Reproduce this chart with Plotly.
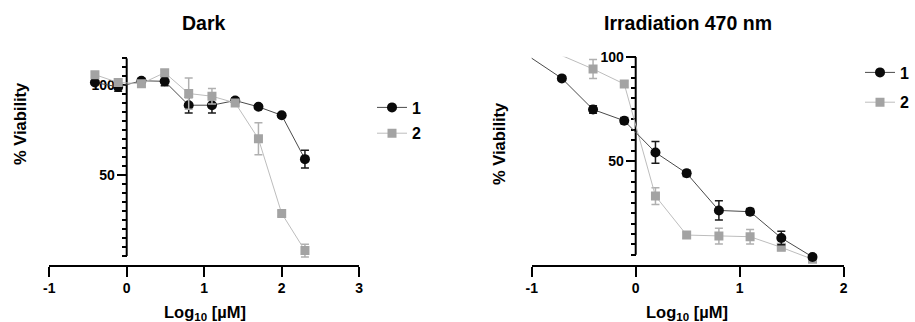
import plotly.graph_objects as go

W, H = 915, 322
FONT = "Arial, Liberation Sans, sans-serif"

# ---- data: log10 concentration (µM) vs % viability, mean ± SD ----
dark_x = [-0.41, -0.11, 0.19, 0.49, 0.80, 1.10, 1.40, 1.70, 2.00, 2.30]
dark_1 = [101.5, 99.1, 102.5, 102.2, 88.9, 88.9, 91.5, 88.0, 83.3, 58.9]
dark_1_sd = [1.0, 2.5, 1.0, 2.5, 4.3, 4.3, 1.5, 1.0, 1.0, 4.9]
dark_2 = [105.9, 101.5, 100.9, 107.0, 95.4, 93.9, 90.2, 70.2, 28.7, 8.0]
dark_2_sd = [1.5, 1.5, 1.5, 1.5, 8.7, 4.3, 1.5, 8.9, 1.5, 3.5]

# lowest concentrations fall outside the plotted axis range
light_1_x = [-1.31, -0.71, -0.41, -0.11, 0.19, 0.49, 0.80, 1.10, 1.40, 1.70]
light_1 = [109.6, 89.6, 74.7, 69.3, 54.1, 44.1, 26.3, 25.7, 13.1, 4.0]
light_1_sd = [0.0, 1.0, 1.8, 1.5, 5.2, 1.5, 4.6, 1.5, 3.2, 1.0]
light_2_x = [-1.01, -0.41, -0.11, 0.19, 0.49, 0.80, 1.10, 1.40, 1.70]
light_2 = [107.0, 94.1, 86.9, 33.2, 14.5, 14.0, 13.7, 8.6, 2.9]
light_2_sd = [0.0, 4.5, 1.5, 4.0, 1.5, 3.8, 3.5, 1.5, 1.0]

x_ticks_dark = [-1, 0, 1, 2, 3]
x_ticks_light = [-1, 0, 1, 2]
y_ticks = [50, 100]
panel_titles = ["Dark", "Irradiation 470 nm"]
series_names = ["1", "2"]

# ---- layout geometry (pixels) ----
def px_x(p):
    return p / W

def px_y(p):
    return 1 - p / H

dark_xdom = [px_x(49.2), px_x(359.2)]
dark_ydom = [px_y(265.0), px_y(58.3)]
light_xdom = [px_x(531.7), px_x(843.7)]
light_ydom = [px_y(265.3), px_y(56.7)]
dark_xr, dark_yr = [-1, 3], [0, 115]
light_xr, light_yr = [-1, 2], [0, 100]


def x_to_paper(v, dom, rng):
    return dom[0] + (v - rng[0]) / (rng[1] - rng[0]) * (dom[1] - dom[0])


BLACK_MK, BLACK_LN, BLACK_ERR = "#0a0a0a", "#4a4a4a", "#1a1a1a"
GRAY_MK, GRAY_LN, GRAY_ERR = "#a3a3a3", "#bdbdbd", "#b0b0b0"


def series(x, y, sd, name, symbol, mk, ln, err, xa, ya, legend, rank):
    return go.Scatter(
        x=x, y=y, name=name, mode="lines+markers",
        xaxis=xa, yaxis=ya, legend=legend, legendrank=rank,
        legendgroup=f"{legend}-{name}",
        line=dict(color=ln, width=1),
        marker=dict(symbol=symbol, size=10 if symbol == "circle" else 9, color=mk),
        error_y=dict(type="data", array=sd, color=err, thickness=1.5, width=4),
    )


fig = go.Figure()
# dark panel: series 2 drawn over series 1
fig.add_trace(series(dark_x, dark_1, dark_1_sd, series_names[0], "circle",
                     BLACK_MK, BLACK_LN, BLACK_ERR, "x", "y", "legend", 1))
fig.add_trace(series(dark_x, dark_2, dark_2_sd, series_names[1], "square",
                     GRAY_MK, GRAY_LN, GRAY_ERR, "x", "y", "legend", 2))
# irradiated panel: series 1 drawn over series 2
fig.add_trace(series(light_2_x, light_2, light_2_sd, series_names[1], "square",
                     GRAY_MK, GRAY_LN, GRAY_ERR, "x2", "y2", "legend2", 2))
fig.add_trace(series(light_1_x, light_1, light_1_sd, series_names[0], "circle",
                     BLACK_MK, BLACK_LN, BLACK_ERR, "x2", "y2", "legend2", 1))

tickfont = dict(family=FONT, size=14, color="black", weight="bold")


def xaxis(dom, rng, ticks, anchor):
    return dict(domain=dom, range=rng, anchor=anchor, automargin=False,
                tickmode="array", tickvals=ticks, ticktext=[str(t) for t in ticks],
                showline=True, linewidth=2, linecolor="black",
                ticks="outside", ticklen=10, tickwidth=2, tickcolor="black",
                ticklabelstandoff=-1,
                showgrid=False, zeroline=False, tickfont=tickfont)


def yaxis(dom, rng, xdom, xrng):
    return dict(domain=dom, range=rng, anchor="free", automargin=False,
                position=x_to_paper(0, xdom, xrng), side="left",
                tickmode="array", tickvals=y_ticks, ticktext=[str(t) for t in y_ticks],
                ticks="outside", ticklen=10, tickwidth=2,
                tickcolor="black", showline=False, showgrid=False, zeroline=False,
                tickfont=tickfont, layer="below traces", ticklabelstandoff=-1,
                minor=dict(tickmode="array", tickvals=list(range(5, rng[1] + 1, 5)),
                           ticks="outside", ticklen=4.5, tickwidth=2, tickcolor="black"))


shapes = [
    dict(type="line", xref="x", yref="y", x0=0, x1=0, y0=5, y1=dark_yr[1],
         line=dict(color="black", width=2), layer="below"),
    dict(type="line", xref="x2", yref="y2", x0=0, x1=0, y0=5, y1=light_yr[1],
         line=dict(color="black", width=2), layer="below"),
]

title_font = dict(family=FONT, size=19.5, color="black", weight="bold")
label_font = dict(family=FONT, size=16.5, color="black", weight="bold")
xlabel = "Log<sub>10</sub> [µM]"
annotations = [
    dict(text=panel_titles[0], x=px_x(204.2), y=px_y(23), font=title_font),
    dict(text=panel_titles[1], x=px_x(687.7), y=px_y(23), font=title_font),
    dict(text=xlabel, x=px_x(204.7), y=px_y(313), font=label_font),
    dict(text=xlabel, x=px_x(687.0), y=px_y(313), font=label_font),
    dict(text="% Viability", x=px_x(20), y=px_y(124), font=label_font, textangle=-90),
    dict(text="% Viability", x=px_x(499), y=px_y(144), font=label_font, textangle=-90),
]
for a in annotations:
    a.update(xref="paper", yref="paper", showarrow=False,
             xanchor="center", yanchor="middle")

legend_style = dict(font=dict(family=FONT, size=16, color="black", weight="bold"),
                    bgcolor="rgba(0,0,0,0)", borderwidth=0,
                    xanchor="left", yanchor="top", traceorder="grouped",
                    itemclick=False, itemdoubleclick=False)

fig.update_layout(
    template="none",
    width=W, height=H, margin=dict(l=0, r=0, t=0, b=0, autoexpand=False),
    paper_bgcolor="white", plot_bgcolor="white",
    xaxis=xaxis(dark_xdom, dark_xr, x_ticks_dark, "y"),
    yaxis=yaxis(dark_ydom, dark_yr, dark_xdom, dark_xr),
    xaxis2=xaxis(light_xdom, light_xr, x_ticks_light, "y2"),
    yaxis2=yaxis(light_ydom, light_yr, light_xdom, light_xr),
    shapes=shapes, annotations=annotations,
    legend=dict(x=px_x(372), y=px_y(90.5), tracegroupgap=2, **legend_style),
    legend2=dict(x=px_x(860), y=px_y(55.5), tracegroupgap=6, **legend_style),
)

fig.write_html("out.html")
